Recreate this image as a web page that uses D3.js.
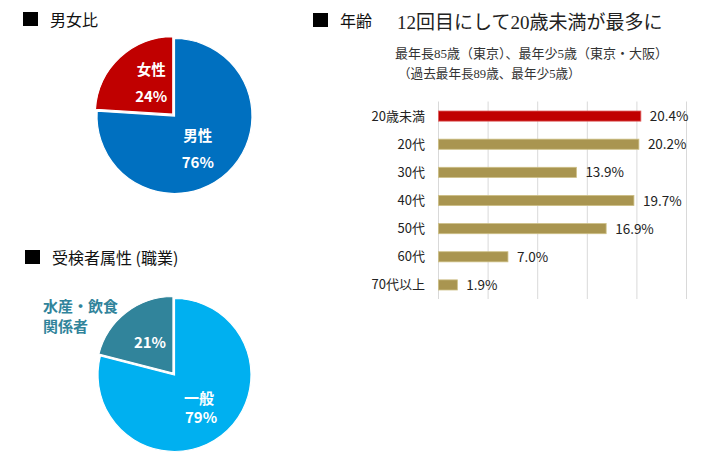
<!DOCTYPE html>
<html><head><meta charset="utf-8">
<script src="https://cdn.jsdelivr.net/npm/d3@7"></script>
<style>
body{margin:0;background:#fff;}
svg{display:block;}
</style></head>
<body>
<svg id="c" width="722" height="460"></svg>
<script>
// ---- data ----
const genderLabels = ["男性", "女性"];
const genderValues = [76, 24];
const genderColors = ["#0070C0", "#C00000"];

const jobNames = ["一般", "水産・飲食関係者"];
const jobValues = [79, 21];
const jobColors = ["#00B0F0", "#31849B"];

const ageCategories = ["20歳未満", "20代", "30代", "40代", "50代", "60代", "70代以上"];
const ageValues = [20.4, 20.2, 13.9, 19.7, 16.9, 7.0, 1.9];
const ageTicks = [0, 5, 10, 15, 20, 25];

const sansJP = "'Noto Sans CJK JP','Noto Sans',sans-serif";
const serifJP = "'Liberation Serif','DejaVu Serif','Noto Sans CJK JP',serif";

const svg = d3.select("#c");

// ---- headings ----
function heading(x, y, text) {
  svg.append("rect").attr("x", x).attr("y", y - 14).attr("width", 15).attr("height", 14).attr("fill", "#000");
  svg.append("text").attr("x", x + 27).attr("y", y).attr("font-family", sansJP)
    .attr("font-size", 16).attr("font-weight", 400).attr("fill", "#111").text(text);
}
heading(23, 26, "男女比");
heading(25, 264, "受検者属性 (職業)");
heading(313, 27, "年齢");

svg.append("text").attr("x", 397).attr("y", 29).attr("font-family", serifJP)
  .attr("font-size", 19).attr("fill", "#222").text("12回目にして20歳未満が最多に");
svg.append("text").attr("x", 395).attr("y", 58).attr("font-family", serifJP)
  .attr("font-size", 13).attr("fill", "#333").text("最年長85歳（東京）、最年少5歳（東京・大阪）");
svg.append("text").attr("x", 398).attr("y", 78).attr("font-family", serifJP)
  .attr("font-size", 12.6).attr("fill", "#333").text("（過去最年長89歳、最年少5歳）");

// ---- pies ----
function drawPie(cx, cy, r, values, colors, explodeIdx) {
  const pie = d3.pie().sort(null).value(d => d);
  const arcs = pie(values);
  const arc = d3.arc().innerRadius(0).outerRadius(r);
  const labelArc = d3.arc().innerRadius(40).outerRadius(40);
  const g = svg.append("g").attr("transform", `translate(${cx},${cy})`);
  arcs.forEach((a, i) => {
    const mid = (a.startAngle + a.endAngle) / 2;
    const off = i === explodeIdx ? 2.5 : 0;
    const dx = Math.sin(mid) * off, dy = -Math.cos(mid) * off;
    g.append("path").attr("d", arc(a)).attr("fill", colors[i])
      .attr("stroke", "#fff").attr("stroke-width", 1.2)
      .attr("transform", `translate(${dx},${dy})`);
  });
  return { g, arcs, labelArc };
}

// gender pie
{
  const { g, arcs, labelArc } = drawPie(174.5, 116, 77.5, genderValues, genderColors, 1);
  arcs.forEach((a, i) => {
    const [cx0, cy0] = labelArc.centroid(a);
    const x = cx0 * 0.85, y = cy0 * 1.12;
    const t = g.append("text").attr("text-anchor", "middle").attr("font-family", sansJP)
      .attr("font-weight", 700).attr("font-size", 14.5).attr("fill", "#fff");
    t.append("tspan").attr("x", x).attr("y", y - 8).text(genderLabels[i]);
    t.append("tspan").attr("x", x).attr("y", y + 19).attr("font-size", 15).text(genderValues[i] + "%");
  });
}

// job pie
{
  const { g, arcs, labelArc } = drawPie(174.5, 375, 76.5, jobValues, jobColors, 1);
  {
    const [x, y] = labelArc.centroid(arcs[0]);
    const t = g.append("text").attr("text-anchor", "middle").attr("font-family", sansJP)
      .attr("font-weight", 700).attr("font-size", 15).attr("fill", "#fff");
    t.append("tspan").attr("x", x).attr("y", y - 3).text(jobNames[0]);
    t.append("tspan").attr("x", x + 2).attr("y", y + 16).text(jobValues[0] + "%");
  }
  {
    const [x, y] = labelArc.centroid(arcs[1]);
    g.append("text").attr("text-anchor", "middle").attr("font-family", sansJP)
      .attr("font-weight", 700).attr("font-size", 15).attr("fill", "#fff")
      .attr("x", x).attr("y", y + 5).text(jobValues[1] + "%");
  }
  const t = svg.append("text").attr("font-family", sansJP).attr("font-weight", 700)
    .attr("font-size", 15).attr("fill", jobColors[1]);
  t.append("tspan").attr("x", 43).attr("y", 312).text("水産・飲食");
  t.append("tspan").attr("x", 43).attr("y", 332).text("関係者");
}

// ---- bar chart ----
{
  const x = d3.scaleLinear().domain([0, 25]).range([438.5, 686.5]);
  const y = d3.scaleBand().domain(ageCategories).range([102, 299]).paddingInner(0.64).paddingOuter(0.32);
  const g = svg.append("g");
  g.selectAll("line.grid").data(ageTicks).join("line")
    .attr("x1", d => x(d)).attr("x2", d => x(d)).attr("y1", 101.5).attr("y2", 299)
    .attr("stroke", "#D9D9D9").attr("stroke-width", 1);
  g.selectAll("rect.bar").data(ageValues).join("rect")
    .attr("x", x(0)).attr("y", (d, i) => y(ageCategories[i]))
    .attr("width", d => x(d) - x(0)).attr("height", y.bandwidth())
    .attr("fill", (d, i) => i === 0 ? "#C00000" : "#A99550")
    .attr("stroke", (d, i) => i === 0 ? "#E06060" : "#CDBF85").attr("stroke-width", 0.8);
  g.selectAll("text.cat").data(ageCategories).join("text")
    .attr("x", 425).attr("y", d => y(d) + y.bandwidth() / 2 + 4.5)
    .attr("text-anchor", "end").attr("font-family", sansJP).attr("font-size", 13)
    .attr("fill", "#222").text(d => d);
  g.selectAll("text.val").data(ageValues).join("text")
    .attr("x", d => x(d) + 9).attr("y", (d, i) => y(ageCategories[i]) + y.bandwidth() / 2 + 5)
    .attr("font-family", sansJP).attr("font-size", 13.5).attr("fill", "#222")
    .text(d => d.toFixed(1) + "%");
}
</script>
</body></html>
